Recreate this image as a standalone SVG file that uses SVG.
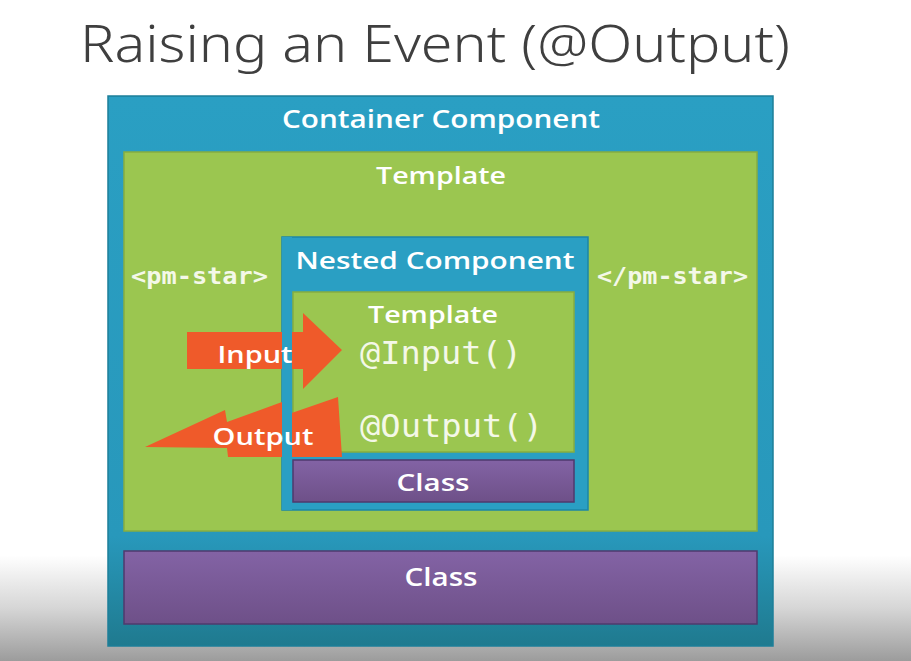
<svg xmlns="http://www.w3.org/2000/svg" width="911" height="661" viewBox="0 0 911 661">
  <defs>
    <linearGradient id="bg" x1="0" y1="0" x2="0" y2="1">
      <stop offset="0" stop-color="#ffffff"/>
      <stop offset="0.84" stop-color="#ffffff"/>
      <stop offset="0.92" stop-color="#d6d6d6"/>
      <stop offset="1" stop-color="#9c9c9c"/>
    </linearGradient>
    <linearGradient id="blueGrad" x1="0" y1="0" x2="0" y2="1">
      <stop offset="0" stop-color="#2a9fc3"/>
      <stop offset="0.8" stop-color="#2898bb"/>
      <stop offset="1" stop-color="#1f7a8f"/>
    </linearGradient>
    <linearGradient id="purpleGrad" x1="0" y1="0" x2="0" y2="1">
      <stop offset="0" stop-color="#8363a5"/>
      <stop offset="1" stop-color="#6e5088"/>
    </linearGradient>
    <style>
      .title { font-family: "Noto Sans", "Open Sans", sans-serif; font-weight: 300; font-size: 52px; fill: #3f3f3f; }
      .label { font-family: "Open Sans", "Noto Sans", sans-serif; font-weight: 600; fill: #ffffff; text-anchor: middle; }
      .code { font-family: "DejaVu Sans Mono", "Liberation Mono", monospace; fill: #f4f8e8; }
      .blue { fill: #2a9fc3; stroke: #1d86a6; stroke-width: 1.5; }
      .green { fill: #9bc650; stroke: #86ad40; stroke-width: 1.5; }
      .purple { fill: url(#purpleGrad); stroke: #4f3a6e; stroke-width: 1.5; }
      .arrow { fill: #ef5a2a; }
    </style>
  </defs>

  <!-- backdrop -->
  <rect x="0" y="0" width="911" height="661" fill="url(#bg)"/>

  <!-- title -->
  <text class="title" x="80" y="62" textLength="710" lengthAdjust="spacingAndGlyphs">Raising an Event (@Output)</text>

  <!-- container component -->
  <g id="container-component">
    <rect x="108" y="96" width="665" height="550" fill="url(#blueGrad)" stroke="#1d7f99" stroke-width="1.5"/>
    <text class="label" x="441" y="128" font-size="25" textLength="318" lengthAdjust="spacingAndGlyphs">Container Component</text>
  </g>

  <!-- container template -->
  <g id="container-template">
    <rect class="green" x="124" y="152" width="633" height="379"/>
    <text class="label" x="441" y="184" font-size="24" textLength="130" lengthAdjust="spacingAndGlyphs">Template</text>
    <text class="code" x="131" y="284" font-size="23" font-weight="bold" textLength="137" lengthAdjust="spacingAndGlyphs">&lt;pm-star&gt;</text>
    <text class="code" x="597" y="284" font-size="23" font-weight="bold" textLength="151" lengthAdjust="spacingAndGlyphs">&lt;/pm-star&gt;</text>
  </g>

  <!-- container class -->
  <g id="container-class">
    <rect class="purple" x="124" y="551" width="633" height="73"/>
    <text class="label" x="441" y="586" font-size="25" textLength="73" lengthAdjust="spacingAndGlyphs">Class</text>
  </g>

  <!-- nested component -->
  <g id="nested-component">
    <rect class="blue" x="282" y="237" width="306" height="273"/>
    <text class="label" x="435" y="269" font-size="24" textLength="279" lengthAdjust="spacingAndGlyphs">Nested Component</text>
  </g>

  <!-- nested template -->
  <g id="nested-template">
    <rect class="green" x="293" y="292" width="281" height="160"/>
    <text class="label" x="433" y="323" font-size="24" textLength="130" lengthAdjust="spacingAndGlyphs">Template</text>
    <text class="code" x="360" y="364" font-size="32" textLength="162" lengthAdjust="spacingAndGlyphs">@Input()</text>
    <text class="code" x="360" y="437" font-size="32" textLength="183" lengthAdjust="spacingAndGlyphs">@Output()</text>
  </g>

  <!-- nested class -->
  <g id="nested-class">
    <rect class="purple" x="293" y="460" width="281" height="42"/>
    <text class="label" x="433" y="491" font-size="24" textLength="73" lengthAdjust="spacingAndGlyphs">Class</text>
  </g>

  <!-- connectors: data flowing in and events flowing out -->
  <g id="connectors">
    <polygon id="input-arrow" class="arrow" points="187,332 303,332 303,313 342,350 303,389 303,369 187,369"/>
    <polygon id="output-arrow" class="arrow" points="145,447 225,410 227,422 282,402 283,416 338,397 342,457 228,457 227,448"/>
    <!-- nested component's left border stays in front of the arrow bodies -->
    <rect x="282" y="237" width="10" height="273" fill="#2a9fc3"/>
    <text class="label" x="255" y="363" font-size="24" textLength="75" lengthAdjust="spacingAndGlyphs">Input</text>
    <text class="label" x="263" y="445" font-size="24" textLength="101" lengthAdjust="spacingAndGlyphs">Output</text>
  </g>
</svg>
